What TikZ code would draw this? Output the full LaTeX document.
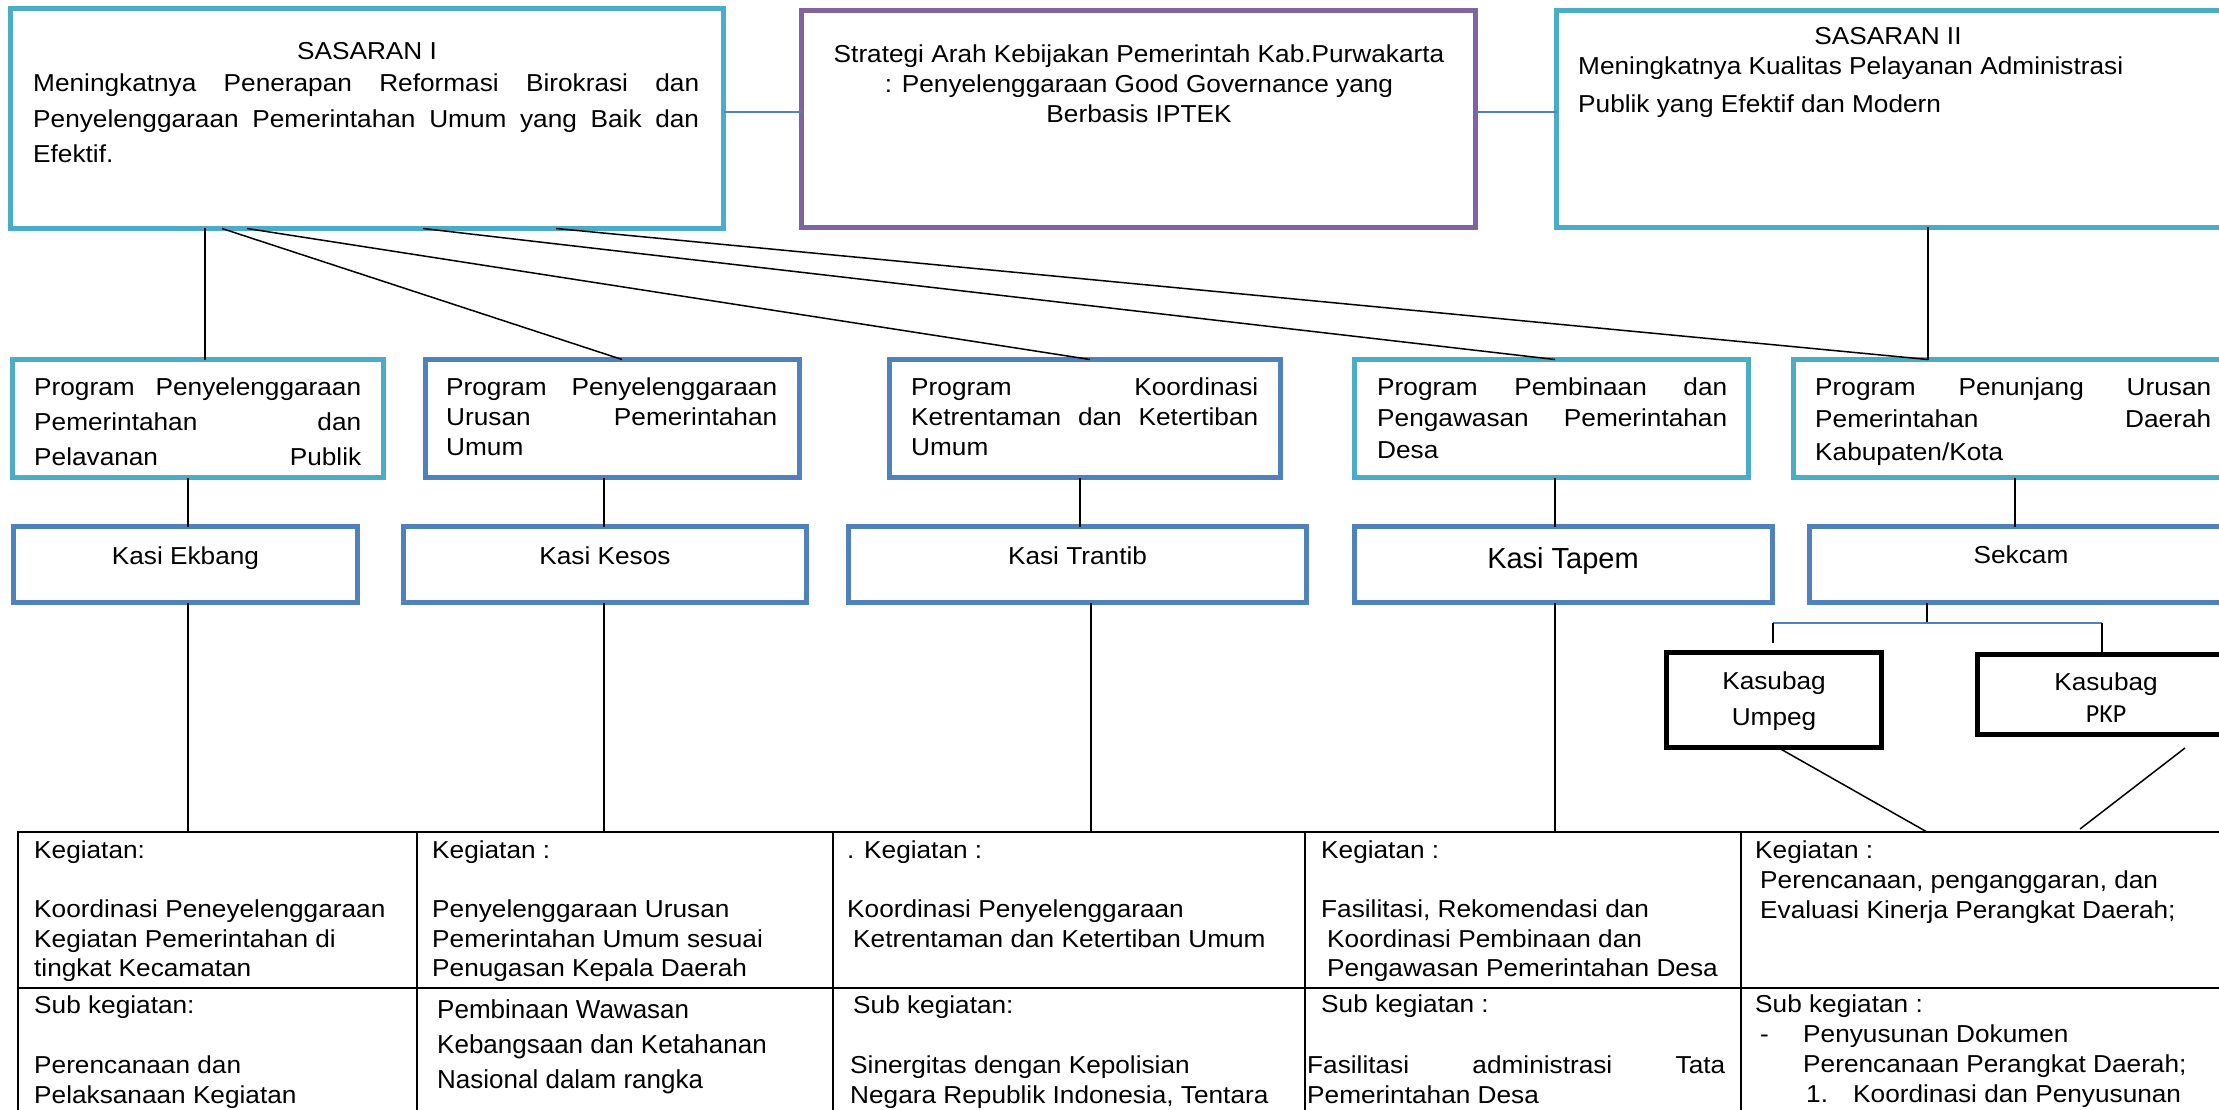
\documentclass[tikz,border=0pt]{standalone}
\usepackage{fontspec}
\setmainfont{Liberation Sans}[FakeStretch=1.07]
\newfontfamily\plainsans{Liberation Sans}
\newfontfamily\calib{Carlito}
\definecolor{cyanb}{HTML}{4BACC6}
\definecolor{blueb}{HTML}{4F81BD}
\definecolor{purpb}{HTML}{8064A2}
\newcommand\fs{\fontsize{24.5pt}{30pt}\selectfont}
\newcommand\fsb[1]{\fontsize{24.5pt}{#1}\selectfont}
\newcommand\rbox[6]{\node[#1, minimum width={#4-#3-5}, minimum height={#6-#5-5}] (#2) at ({(#3+#4)/2},{(#5+#6)/2}) {};}
\begin{document}
\begin{tikzpicture}[x=1pt,y=-1pt,
  bx/.style={draw, line width=5pt, inner sep=0pt, outer sep=0pt, fill=white},
  cy/.style={bx, draw=cyanb}, bl/.style={bx, draw=blueb},
  pu/.style={bx, draw=purpb}, bk/.style={bx, draw=black},
  txt/.style={anchor=base west, inner sep=0pt, font=\fs},
  ctxt/.style={anchor=base, inner sep=0pt, font=\fs},
  con/.style={draw=black, line width=1.5pt},
  bcon/.style={draw=blueb, line width=2pt},
  gridl/.style={draw=black, line width=2pt}]
\useasboundingbox (0,0) rectangle (2219,1110);
\clip (0,0) rectangle (2219,1110);
\fill[white] (0,0) rectangle (2219,1110);
% helper coordinates
\foreach \v in {188,205,222,247,423,556,604,622,1080,1090,1091,1555,1773,1778,1927,1928,2015,2080,2102,2185}
  \coordinate (x\v) at (\v,0);
\foreach \v in {112,623,643,748,829,988}
  \coordinate (y\v) at (0,\v);
% boxes
\rbox{cy}{s1}{8}{726}{6}{231}
\rbox{pu}{st}{799}{1478}{8}{230}
\rbox{cy}{s2}{1554}{2225}{8}{230}
\rbox{cy}{p1}{10}{386}{357}{480}
\rbox{bl}{p2}{423}{802}{357}{480}
\rbox{bl}{p3}{887}{1283}{357}{480}
\rbox{cy}{p4}{1352}{1751}{357}{480}
\rbox{cy}{p5}{1791}{2240}{357}{480}
\rbox{bl}{k1}{11}{360}{524}{605}
\rbox{bl}{k2}{401}{809}{524}{605}
\rbox{bl}{k3}{846}{1309}{524}{605}
\rbox{bl}{k4}{1352}{1775}{524}{605}
\rbox{bl}{k5}{1807}{2235}{524}{605}
\rbox{bk}{ku}{1664}{1884}{650}{750}
\rbox{bk}{kp}{1975}{2240}{652}{737}
% table
\node[draw, line width=2pt, inner sep=0pt, outer sep=0pt, minimum width=2222pt, minimum height=308pt, anchor=north west] (tbl) at (18,832) {};
\draw[gridl] (tbl.west |- y988) -- (tbl.east |- y988);
\foreach \c in {417,833,1305,1741}{
  \coordinate (cc) at (\c,0);
  \draw[gridl] (tbl.north -| cc) -- (tbl.south -| cc);
}
% connectors top
\draw[bcon] (s1.east |- y112) -- (st.west |- y112);
\draw[bcon] (st.east |- y112) -- (s2.west |- y112);
\draw[con] (s1.south -| x205) -- (p1.north -| x205);
\draw[con] (s1.south -| x222) -- (p2.north -| x622);
\draw[con] (s1.south -| x247) -- (p3.north -| x1090);
\draw[con] (s1.south -| x423) -- (p4.north -| x1555);
\draw[con] (s1.south -| x556) -- (p5.north -| x1928);
\draw[con] (s2.south -| x1928) -- (p5.north -| x1928);
% programs to kasi
\draw[con] (p1.south -| x188) -- (k1.north -| x188);
\draw[con] (p2.south -| x604) -- (k2.north -| x604);
\draw[con] (p3.south -| x1080) -- (k3.north -| x1080);
\draw[con] (p4.south -| x1555) -- (k4.north -| x1555);
\draw[con] (p5.south -| x2015) -- (k5.north -| x2015);
% kasi to table
\draw[con] (k1.south -| x188) -- (tbl.north -| x188);
\draw[con] (k2.south -| x604) -- (tbl.north -| x604);
\draw[con] (k3.south -| x1091) -- (tbl.north -| x1091);
\draw[con] (k4.south -| x1555) -- (tbl.north -| x1555);
% sekcam branch
\draw[con] (k5.south -| x1927) -- (x1927 |- y623);
\draw[bcon] (x1773 |- y623) -- (x2102 |- y623);
\draw[con] (x1773 |- y623) -- (x1773 |- y643);
\draw[con] (x2102 |- y623) -- (kp.north -| x2102);
\draw[con] (ku.south -| x1778) -- (tbl.north -| x1927);
\draw[con] (x2185 |- y748) -- (x2080 |- y829);
% texts top
\node[ctxt] (s1a) at (367,60) {SASARAN I};
\node[txt] (s1b) at (33,92) {\parbox[t]{666pt}{\fsb{35.5pt}\makebox[\linewidth][s]{Meningkatnya Penerapan Reformasi Birokrasi dan}\\ \makebox[\linewidth][s]{Penyelenggaraan Pemerintahan Umum yang Baik dan}\\ Efektif.}};
\node[anchor=base, inner sep=0pt] (stt) at (1139,63) {\parbox[t]{670pt}{\centering\fsb{30pt}Strategi Arah Kebijakan Pemerintah Kab.Purwakarta\\ : Penyelenggaraan Good Governance yang\\ Berbasis IPTEK}};
\node[ctxt] (s2a) at (1888,45) {SASARAN II};
\node[txt] (s2b) at (1578,75) {\parbox[t]{640pt}{\fsb{38pt}Meningkatnya Kualitas Pelayanan Administrasi\\ Publik yang Efektif dan Modern}};
% program texts
\node[txt] (p1t) at (34,395) {\parbox[t]{327pt}{\fsb{35pt}\makebox[\linewidth][s]{Program Penyelenggaraan}\\ \makebox[\linewidth][s]{Pemerintahan dan}\\ \makebox[\linewidth][s]{Pelavanan Publik}}};
\node[txt] (p2t) at (446,395) {\parbox[t]{331pt}{\fsb{30pt}\makebox[\linewidth][s]{Program Penyelenggaraan}\\ \makebox[\linewidth][s]{Urusan Pemerintahan}\\ Umum}};
\node[txt] (p3t) at (911,395) {\parbox[t]{347pt}{\fsb{30pt}\makebox[\linewidth][s]{Program Koordinasi}\\ \makebox[\linewidth][s]{Ketrentaman dan Ketertiban}\\ Umum}};
\node[txt] (p4t) at (1377,395) {\parbox[t]{350pt}{\fsb{31.5pt}\makebox[\linewidth][s]{Program Pembinaan dan}\\ \makebox[\linewidth][s]{Pengawasan Pemerintahan}\\ Desa}};
\node[txt] (p5t) at (1815,395) {\parbox[t]{396pt}{\fsb{32.5pt}\makebox[\linewidth][s]{Program Penunjang Urusan}\\ \makebox[\linewidth][s]{Pemerintahan Daerah}\\ Kabupaten/Kota}};
% kasi texts
\node[ctxt] (k1t) at (185.5,564) {Kasi Ekbang};
\node[ctxt] (k2t) at (605,564) {Kasi Kesos};
\node[ctxt] (k3t) at (1077.5,564) {Kasi Trantib};
\node[ctxt] (k4t) at (1563,568) {\plainsans\fontsize{29pt}{30pt}\selectfont Kasi Tapem};
\node[ctxt] (k5t) at (2021,563) {Sekcam};
\node[anchor=base, inner sep=0pt] (kut) at (1774,689) {\parbox[t]{210pt}{\centering\fsb{36pt}Kasubag\\ Umpeg}};
\node[anchor=base, inner sep=0pt] (kpt) at (2106,690) {\parbox[t]{210pt}{\centering\fsb{32pt}Kasubag\\ {\calib\fontsize{26pt}{32pt}\selectfont PKP}}};
% table texts
\node[txt] (c1a) at (34,858) {\parbox[t]{500pt}{\fsb{29.7pt}Kegiatan:\\ \mbox{}\\ Koordinasi Peneyelenggaraan\\ Kegiatan Pemerintahan di\\ tingkat Kecamatan}};
\node[txt] (c1b) at (34,1013) {\parbox[t]{500pt}{\fsb{30pt}Sub kegiatan:\\ \mbox{}\\ Perencanaan dan\\ Pelaksanaan Kegiatan}};
\node[txt] (c2a) at (432,858) {\parbox[t]{500pt}{\fsb{29.7pt}Kegiatan :\\ \mbox{}\\ Penyelenggaraan Urusan\\ Pemerintahan Umum sesuai\\ Penugasan Kepala Daerah}};
\node[txt] (c2b) at (437,1018) {\parbox[t]{500pt}{\plainsans\fontsize{26pt}{35pt}\selectfont Pembinaan Wawasan\\ Kebangsaan dan Ketahanan\\ Nasional dalam rangka}};
\node[txt] (c3a) at (847,858) {\parbox[t]{500pt}{\fsb{29.7pt}. Kegiatan :\\ \mbox{}\\ Koordinasi Penyelenggaraan\\ \hspace*{6pt}Ketrentaman dan Ketertiban Umum}};
\node[txt] (c3b) at (853,1013) {\parbox[t]{500pt}{\fsb{30pt}Sub kegiatan:\\ \mbox{}\\ \hspace*{-3pt}Sinergitas dengan Kepolisian\\ \hspace*{-3pt}Negara Republik Indonesia, Tentara}};
\node[txt] (c4a) at (1321,858) {\parbox[t]{500pt}{\fsb{29.7pt}Kegiatan :\\ \mbox{}\\ Fasilitasi, Rekomendasi dan\\ \hspace*{6pt}Koordinasi Pembinaan dan\\ \hspace*{6pt}Pengawasan Pemerintahan Desa}};
\node[txt] (c4b) at (1321,1012) {Sub kegiatan :};
\node[txt] (c4c) at (1307,1073) {\parbox[t]{418pt}{\fsb{30pt}\makebox[\linewidth][s]{Fasilitasi administrasi Tata}\\ Pemerintahan Desa}};
\node[txt] (c5a) at (1755,858) {\parbox[t]{500pt}{\fsb{30pt}Kegiatan :\\ \hspace*{5pt}Perencanaan, penganggaran, dan\\ \hspace*{5pt}Evaluasi Kinerja Perangkat Daerah;}};
\node[txt] (c5b) at (1755,1012) {\parbox[t]{500pt}{\fsb{30pt}Sub kegiatan :\\ \hspace*{5pt}\makebox[43pt][l]{-}Penyusunan Dokumen\\ \hspace*{48pt}Perencanaan Perangkat Daerah;\\ \hspace*{51pt}\makebox[47pt][l]{1.}Koordinasi dan Penyusunan}};
\end{tikzpicture}
\end{document}
